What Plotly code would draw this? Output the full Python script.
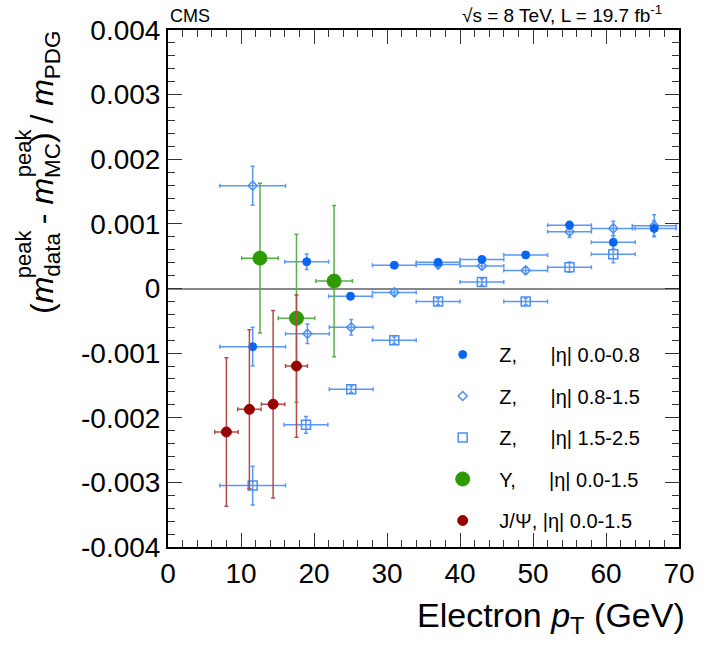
import plotly.graph_objects as go

# ---------------- data (y values in units of 1e-3) ----------------
z1_x = [11.6, 19.0, 25.0, 31.0, 37.0, 43.0, 49.0, 55.0, 61.0, 66.6]
z1_y = [-0.90, 0.415, -0.12, 0.36, 0.405, 0.45, 0.52, 0.98, 0.715, 0.93]
z1_xerr = [4.5, 3, 3, 3, 3, 3, 3, 3, 3, 3]
z1_yerr = [0.30, 0.12, 0.05, 0.04, 0.04, 0.04, 0.05, 0.06, 0.10, 0.12]

z2_x = [11.6, 19.1, 25.1, 31.0, 37.0, 43.0, 49.0, 55.0, 61.0, 66.6]
z2_y = [1.59, -0.70, -0.60, -0.06, 0.37, 0.35, 0.28, 0.88, 0.93, 0.97]
z2_xerr = [4.5, 3, 3, 3, 3, 3, 3, 3, 3, 3]
z2_yerr = [0.30, 0.15, 0.12, 0.05, 0.05, 0.05, 0.05, 0.09, 0.11, 0.17]

z3_x = [11.6, 18.9, 25.1, 31.0, 37.0, 43.0, 49.0, 55.0, 61.0]
z3_y = [-3.05, -2.11, -1.56, -0.80, -0.20, 0.10, -0.20, 0.33, 0.53]
z3_xerr = [4.5, 3, 3, 3, 3, 3, 3, 3, 3]
z3_yerr = [0.30, 0.13, 0.05, 0.05, 0.05, 0.05, 0.05, 0.08, 0.13]

ups_x = [12.6, 17.6, 22.75]
ups_y = [0.47, -0.46, 0.115]
ups_xerr = [2.5, 2.5, 2.5]
ups_yerr = [1.16, 1.30, 1.17]

jpsi_x = [8.0, 11.15, 14.4, 17.6]
jpsi_y = [-2.22, -1.87, -1.79, -1.20]
jpsi_xerr = [1.6, 1.6, 1.6, 1.5]
jpsi_yerr = [1.15, 1.23, 1.45, 1.10]

x_ticks = [0, 10, 20, 30, 40, 50, 60, 70]
y_tickvals = [-0.004, -0.003, -0.002, -0.001, 0, 0.001, 0.002, 0.003, 0.004]
y_ticktext = ["-0.004", "-0.003", "-0.002", "-0.001", "0", "0.001", "0.002", "0.003", "0.004"]

FONT = "Liberation Sans, Arial, Helvetica, sans-serif"
NB = "&nbsp;"

# plot-area geometry helpers (pixels -> paper)
L, R, T, B, W, H = 168, 20, 30, 102, 707, 649
PW, PH = W - L - R, H - T - B


def px(xp):
    return (xp - L) / PW


def py(yp):
    return (H - B - yp) / PH


fig = go.Figure()


def add(x, y, xe, ye, name, symbol, size, color, ecolor, lw, rank):
    fig.add_trace(go.Scatter(
        x=x, y=[v * 1e-3 for v in y], mode="markers", name=name,
        legendgroup=name, legendrank=rank,
        marker=dict(symbol=symbol, size=size, color=color,
                    line=dict(color=color, width=lw)),
        error_x=dict(type="data", array=xe, color=ecolor, thickness=1.5, width=2),
        error_y=dict(type="data", array=[v * 1e-3 for v in ye], color=ecolor,
                     thickness=1.5, width=2),
    ))


add(z3_x, z3_y, z3_xerr, z3_yerr, NB * 3 + "Z," + NB * 6 + "|η| 1.5-2.5", "square-open", 9,
    "#4a8ef5", "#5b98f5", 1.5, 3)
add(z2_x, z2_y, z2_xerr, z2_yerr, NB * 3 + "Z," + NB * 6 + "|η| 0.8-1.5", "diamond-open", 7,
    "#4a8ef5", "#5b98f5", 1.5, 2)
add(z1_x, z1_y, z1_xerr, z1_yerr, NB * 3 + "Z," + NB * 6 + "|η| 0.0-0.8", "circle", 8,
    "#0a66f2", "#5b98f5", 1, 1)
add(ups_x, ups_y, ups_xerr, ups_yerr, NB * 3 + "Υ," + NB * 6 + "|η| 0.0-1.5", "circle", 14,
    "#2f9a05", "#5aae4a", 1, 4)
add(jpsi_x, jpsi_y, jpsi_xerr, jpsi_yerr, NB * 3 + "J/Ψ, |η| 0.0-1.5", "circle", 10,
    "#990000", "#b44a4a", 1, 5)

axis_common = dict(
    showgrid=False, showline=True, linewidth=2, linecolor="black", mirror="ticks",
    ticks="inside", ticklen=14, tickwidth=1.3, tickcolor="#333",
    tickfont=dict(family=FONT, size=28, color="black"),
)

fig.update_xaxes(range=[0, 70], tickvals=x_ticks, zeroline=False,
                 minor=dict(ticks="inside", ticklen=7, dtick=2, tickcolor="#333", tickwidth=1.2),
                 **axis_common)
fig.update_yaxes(range=[-0.004, 0.004], tickvals=y_tickvals, ticktext=y_ticktext,
                 zeroline=True, zerolinecolor="#888888", zerolinewidth=2,
                 minor=dict(ticks="inside", ticklen=7, dtick=0.0002, tickcolor="#333", tickwidth=1.2),
                 **axis_common)

ytitle_main = "(<i>m</i><sub>data</sub> - <i>m</i><sub>MC</sub>) / <i>m</i><sub>PDG</sub>"

fig.update_layout(
    width=W, height=H,
    margin=dict(l=L, r=R, t=T, b=B),
    paper_bgcolor="white", plot_bgcolor="white",
    font=dict(family=FONT, color="black"),
    legend=dict(x=px(447), y=py(335), xanchor="left", yanchor="top",
                bgcolor="rgba(0,0,0,0)", font=dict(size=20, family=FONT),
                tracegroupgap=12.5, itemwidth=30),
    annotations=[
        dict(text="CMS", xref="paper", yref="paper", x=0, y=1.0, xanchor="left",
             yanchor="bottom", yshift=2, showarrow=False, font=dict(size=18)),
        dict(text="√s = 8 TeV, L = 19.7 fb<sup>-1</sup>", xref="paper", yref="paper",
             x=px(672), y=1.0, xanchor="right", yanchor="bottom", yshift=2,
             showarrow=False, font=dict(size=19)),
        dict(text="Electron <i>p</i><sub>T</sub> (GeV)", xref="paper", yref="paper",
             x=1.0, y=-0.085, xanchor="right", yanchor="top", xshift=8, yshift=-3,
             showarrow=False, font=dict(size=34)),
        dict(text=ytitle_main, xref="paper", yref="paper", x=px(42), y=py(172),
             xanchor="center", yanchor="middle", textangle=-90, showarrow=False,
             font=dict(size=32)),
        dict(text="peak", xref="paper", yref="paper", x=px(21), y=py(254),
             xanchor="center", yanchor="middle", textangle=-90, showarrow=False,
             font=dict(size=22)),
        dict(text="peak", xref="paper", yref="paper", x=px(21), y=py(153),
             xanchor="center", yanchor="middle", textangle=-90, showarrow=False,
             font=dict(size=22)),
    ],
)

fig.write_html("out.html")
